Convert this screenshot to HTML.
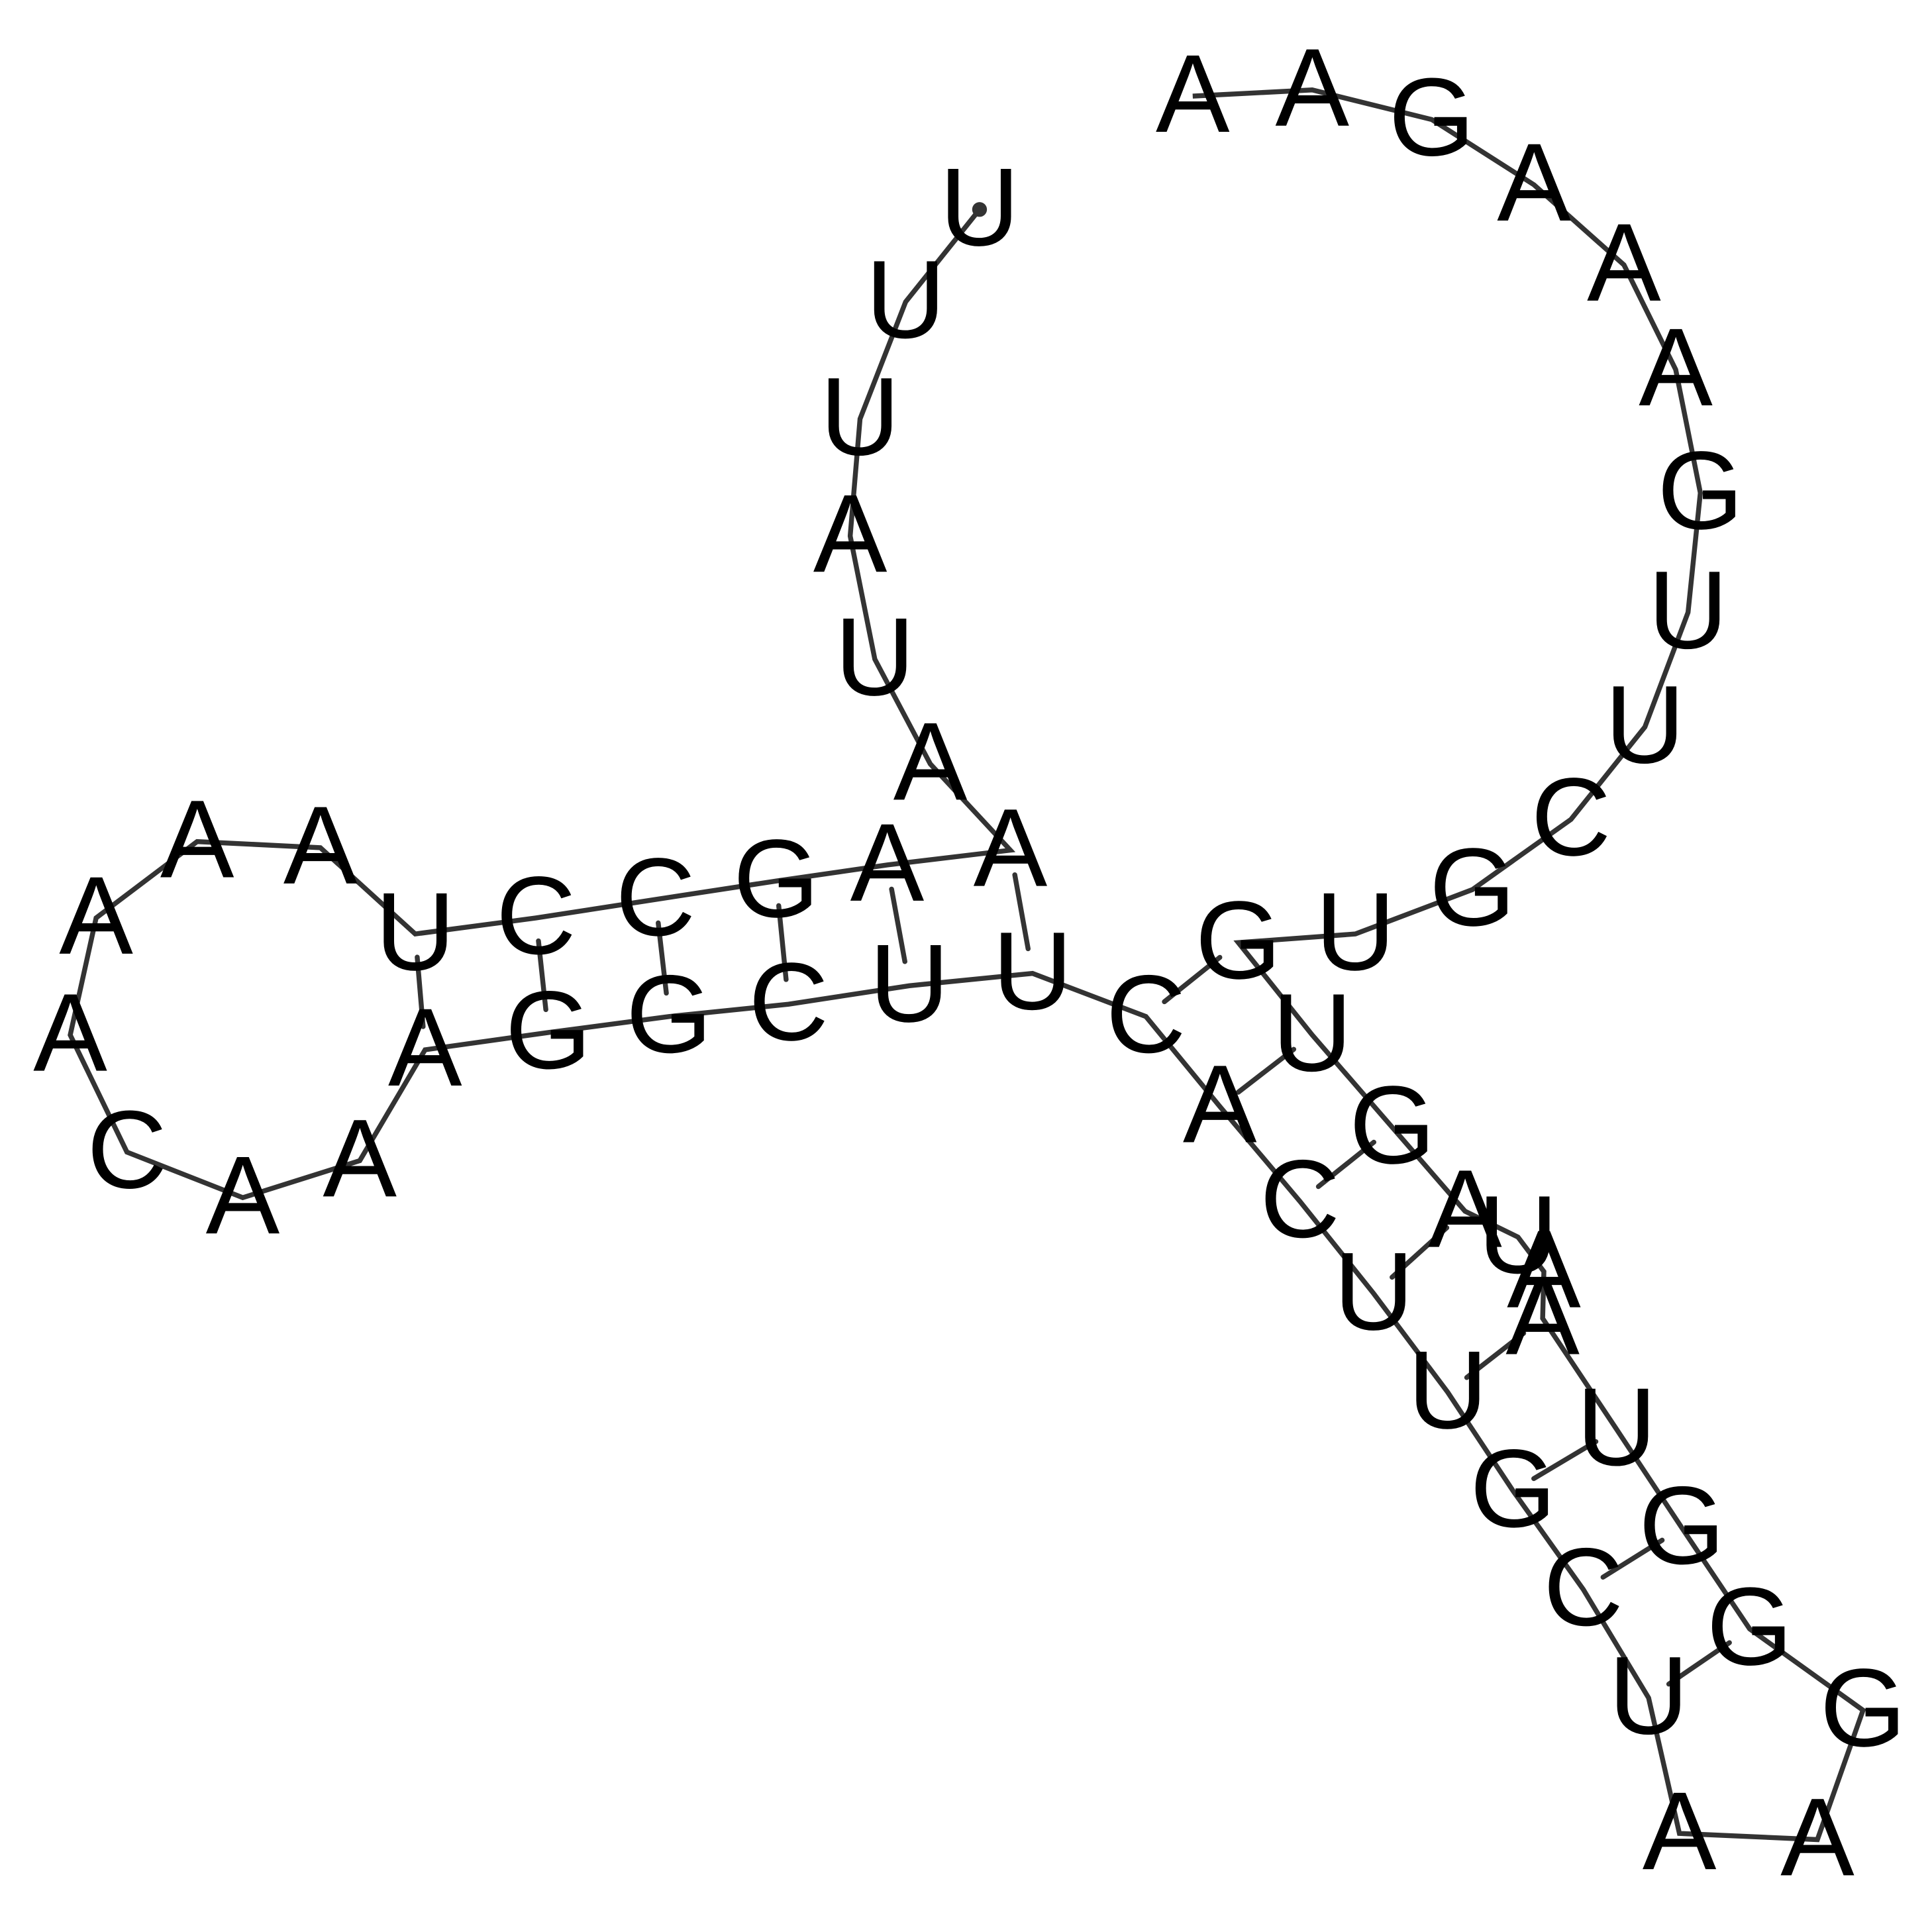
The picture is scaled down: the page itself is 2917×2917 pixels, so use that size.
<!DOCTYPE html>
<html><head><meta charset="utf-8"><style>
html,body{margin:0;padding:0;background:#fff;}
svg{display:block;}
text{font-family:"Liberation Sans",sans-serif;font-size:90px;fill:#000;}
</style></head>
<body>
<svg id="chart" width="2917" height="2917" viewBox="0 0 1568 1568" xmlns="http://www.w3.org/2000/svg">
<g id="pairs"></g>
<g id="backbone"></g>
<g id="letters"></g>
</svg>
<script>
const seq = ["U","U","U","A","U","A","A","A","G","C","C","U","A","A","A","A","C","A","A","A","G","G","C","U","U","C","A","C","U","U","G","C","U","A","A","G","G","G","U","A","A","U","A","G","U","G","U","G","C","U","U","G","A","A","A","G","A","A"];
const nx = [795,735,698,690,710,755,820,720,630,532,435,337,260,160,78,57,103,197,292,345,445,543,640,738,838,930,990,1055,1115,1175,1228,1285,1338,1363,1475,1512,1420,1365,1312,1252,1253,1232,1189,1130,1065,1005,1100,1195,1275,1335,1370,1380,1360,1318,1245,1162,1065,968];
const ny = [170,245,340,435,535,620,690,702,715,730,745,758,688,683,745,840,935,972,942,852,838,825,815,800,790,825,898,975,1050,1130,1210,1290,1378,1488,1493,1388,1322,1240,1160,1070,1032,1004,983,915,840,765,758,722,665,590,497,400,300,215,150,97,73,78];
const pairI = [11,10,9,8,7,6,45,44,43,42,39,38,37,36];
const pairJ = [19,20,21,22,23,24,25,26,27,28,29,30,31,32];
const NS="http://www.w3.org/2000/svg";
const bb=document.getElementById('backbone'), lg=document.getElementById('letters'), pg=document.getElementById('pairs');
let d="M"+nx[0]+" "+ny[0];
for(let i=1;i<seq.length;i++) d+=" L"+nx[i]+" "+ny[i];
const p=document.createElementNS(NS,'path');
p.setAttribute('d',d);p.setAttribute('fill','none');p.setAttribute('stroke','#333');p.setAttribute('stroke-width','4');


bb.appendChild(p);
const dot=document.createElementNS(NS,'circle');
dot.setAttribute('cx',nx[0]);dot.setAttribute('cy',ny[0]);dot.setAttribute('r','6');dot.setAttribute('fill','#333');


bb.appendChild(dot);
for(let k=0;k<pairI.length;k++){
  const a=pairI[k],b=pairJ[k];
  const dx=nx[b]-nx[a], dy=ny[b]-ny[a], L=Math.hypot(dx,dy);
  const f=L>70?0.2:0.25;
  const l=document.createElementNS(NS,'line');
  l.setAttribute('x1',nx[a]+dx*f);l.setAttribute('y1',ny[a]+dy*f);
  l.setAttribute('x2',nx[b]-dx*f);l.setAttribute('y2',ny[b]-dy*f);
  l.setAttribute('stroke','#333');l.setAttribute('stroke-width','4');l.setAttribute('stroke-linecap','round');
  
  
  pg.appendChild(l);
}
for(let i=0;i<seq.length;i++){
  const t=document.createElementNS(NS,'text');
  t.setAttribute('x',nx[i]);t.setAttribute('y',ny[i]+29);t.setAttribute('text-anchor','middle');
  t.textContent=seq[i];
  
  
  lg.appendChild(t);
}
</script>
</body></html>
